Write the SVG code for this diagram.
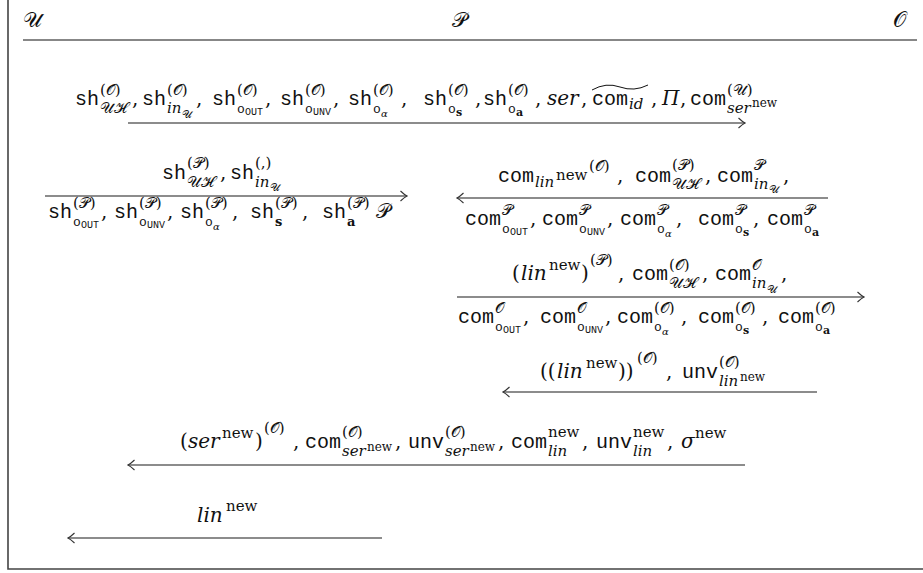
<svg xmlns="http://www.w3.org/2000/svg" width="923" height="573" viewBox="0 0 923 573">
<style>
text{fill:#111}
.t{font-family:"Liberation Mono",monospace;font-size:20px}
.m{font-family:"DejaVu Serif",serif;font-style:italic;font-size:20px}
.r{font-family:"DejaVu Serif",serif;font-size:20px}
.sm{font-family:"DejaVu Serif",serif;font-style:italic;font-size:15px}
.sr{font-family:"DejaVu Serif",serif;font-size:15px}
.st{font-family:"Liberation Mono",monospace;font-size:13px}
.tt{font-family:"Liberation Mono",monospace;font-size:10px}
.xm{font-family:"DejaVu Serif",serif;font-style:italic;font-size:10px}
.xr{font-family:"DejaVu Serif",serif;font-size:11px}
.xn{font-family:"DejaVu Serif",serif;font-size:12px}
.xb{font-family:"DejaVu Serif",serif;font-weight:bold;font-size:11px}
.sb{font-family:"DejaVu Serif",serif;font-weight:bold;font-size:13px}
.hdr{font-family:"DejaVu Serif",serif;font-size:21px}
.frame{stroke:#444;stroke-width:1.6;fill:none}
.rule{stroke:#111;stroke-width:1.1;fill:none}
.msg{stroke:#666;stroke-width:1.6;fill:none;marker-end:url(#arr)}
.tilde{stroke:#111;stroke-width:1;fill:none}
</style>
<defs>
<marker id="arr" viewBox="-8 -6 9 12" markerWidth="9" markerHeight="12" refX="0" refY="0" orient="auto" markerUnits="userSpaceOnUse">
<path d="M-6.5,-5 Q-2.5,-1.2 0,0 Q-2.5,1.2 -6.5,5" fill="none" stroke="#333" stroke-width="1.1"/>
</marker>
</defs>

<g id="frame">
<path class="frame" d="M8,0 V569 H923"/>
<path class="rule" d="M23,40 H917"/>
</g>

<g id="node-U"><text class="hdr" x="23" y="27">𝒰</text></g>
<g id="node-P"><text class="hdr" x="452" y="27">𝒫</text></g>
<g id="node-O"><text class="hdr" x="893" y="27">𝒪</text></g>

<g id="connectors">
<g id="msg1">
<line class="msg" x1="128" y1="123" x2="745" y2="123"/>
<text>
<tspan class="t" x="75" y="105">sh</tspan><tspan class="sr" x="100" y="95">(𝒪)</tspan><tspan class="sr" x="100" y="113">𝒰ℋ</tspan><tspan class="r" x="132" y="105">,</tspan>
<tspan class="t" x="142" y="105">sh</tspan><tspan class="sr" x="167" y="95">(𝒪)</tspan><tspan class="sm" x="167" y="113">in</tspan><tspan class="xr" x="182" y="118">𝒰</tspan><tspan class="r" x="196" y="105">,</tspan>
<tspan class="t" x="212" y="105">sh</tspan><tspan class="sr" x="237" y="95">(𝒪)</tspan><tspan class="st" x="237" y="113">o</tspan><tspan class="tt" x="245" y="115">OUT</tspan><tspan class="r" x="265" y="105">,</tspan>
<tspan class="t" x="280" y="105">sh</tspan><tspan class="sr" x="305" y="95">(𝒪)</tspan><tspan class="st" x="305" y="113">o</tspan><tspan class="tt" x="313" y="115">UNV</tspan><tspan class="r" x="333" y="105">,</tspan>
<tspan class="t" x="348" y="105">sh</tspan><tspan class="sr" x="373" y="95">(𝒪)</tspan><tspan class="st" x="373" y="113">o</tspan><tspan class="xm" x="381" y="117">α</tspan><tspan class="r" x="401" y="105">,</tspan>
<tspan class="t" x="423" y="105">sh</tspan><tspan class="sr" x="448" y="95">(𝒪)</tspan><tspan class="st" x="448" y="113">o</tspan><tspan class="xb" x="456" y="116">s</tspan><tspan class="r" x="475" y="105">,</tspan>
<tspan class="t" x="483" y="105">sh</tspan><tspan class="sr" x="508" y="95">(𝒪)</tspan><tspan class="st" x="508" y="113">o</tspan><tspan class="xb" x="516" y="116">a</tspan><tspan class="r" x="535" y="105">,</tspan>
<tspan class="m" x="547" y="105">ser</tspan><tspan class="r" x="581" y="105">,</tspan>
<tspan class="t" x="592" y="105">com</tspan><tspan class="sm" x="629" y="109">id</tspan><tspan class="r" x="651" y="105">,</tspan>
<tspan class="m" x="662" y="105">Π</tspan><tspan class="r" x="680" y="105">,</tspan>
<tspan class="t" x="690" y="105">com</tspan><tspan class="sr" x="727" y="95">(𝒰)</tspan><tspan class="sm" x="727" y="113">ser</tspan><tspan class="xn" x="752" y="107">new</tspan>
</text>
<path class="tilde" d="M592,90 Q606,82 620,87 Q634,92 648,85"/>
</g>

<g id="msg2">
<line class="msg" x1="45" y1="196" x2="407" y2="196"/>
<text>
<tspan class="t" x="162" y="179">sh</tspan><tspan class="sr" x="187" y="168">(𝒫)</tspan><tspan class="sr" x="187" y="187">𝒰ℋ</tspan><tspan class="r" x="220" y="179">,</tspan>
<tspan class="t" x="230" y="179">sh</tspan><tspan class="sr" x="255" y="168">(,)</tspan><tspan class="sm" x="255" y="187">in</tspan><tspan class="xr" x="270" y="191">𝒰</tspan>
</text>
<text>
<tspan class="t" x="48" y="218">sh</tspan><tspan class="sr" x="73" y="208">(𝒫)</tspan><tspan class="st" x="73" y="226">o</tspan><tspan class="tt" x="81" y="228">OUT</tspan><tspan class="r" x="101" y="218">,</tspan>
<tspan class="t" x="114" y="218">sh</tspan><tspan class="sr" x="139" y="208">(𝒫)</tspan><tspan class="st" x="139" y="226">o</tspan><tspan class="tt" x="147" y="228">UNV</tspan><tspan class="r" x="167" y="218">,</tspan>
<tspan class="t" x="180" y="218">sh</tspan><tspan class="sr" x="205" y="208">(𝒫)</tspan><tspan class="st" x="205" y="226">o</tspan><tspan class="xm" x="213" y="230">α</tspan><tspan class="r" x="232" y="218">,</tspan>
<tspan class="t" x="250" y="218">sh</tspan><tspan class="sr" x="275" y="208">(𝒫)</tspan><tspan class="sb" x="275" y="226">s</tspan><tspan class="r" x="302" y="218">,</tspan>
<tspan class="t" x="322" y="218">sh</tspan><tspan class="sr" x="347" y="208">(𝒫)</tspan><tspan class="sb" x="347" y="226">a</tspan><tspan class="r" x="376" y="218">𝒫</tspan>
</text>
</g>

<g id="msg3">
<line class="msg" x1="828" y1="198" x2="457" y2="198"/>
<text>
<tspan class="t" x="498" y="182">com</tspan><tspan class="sm" x="535" y="187">lin</tspan><tspan class="sr" x="556" y="180">new</tspan><tspan class="sr" x="589" y="171">(𝒪)</tspan><tspan class="r" x="617" y="182">,</tspan>
<tspan class="t" x="635" y="182">com</tspan><tspan class="sr" x="672" y="170">(𝒫)</tspan><tspan class="sr" x="672" y="189">𝒰ℋ</tspan><tspan class="r" x="705" y="182">,</tspan>
<tspan class="t" x="717" y="182">com</tspan><tspan class="sr" x="754" y="170">𝒫</tspan><tspan class="sm" x="754" y="189">in</tspan><tspan class="xr" x="769" y="193">𝒰</tspan><tspan class="r" x="783" y="182">,</tspan>
</text>
<text>
<tspan class="t" x="465" y="225">com</tspan><tspan class="sr" x="502" y="215">𝒫</tspan><tspan class="st" x="502" y="233">o</tspan><tspan class="tt" x="510" y="235">OUT</tspan><tspan class="r" x="530" y="225">,</tspan>
<tspan class="t" x="542" y="225">com</tspan><tspan class="sr" x="579" y="215">𝒫</tspan><tspan class="st" x="579" y="233">o</tspan><tspan class="tt" x="587" y="235">UNV</tspan><tspan class="r" x="607" y="225">,</tspan>
<tspan class="t" x="620" y="225">com</tspan><tspan class="sr" x="657" y="215">𝒫</tspan><tspan class="st" x="657" y="233">o</tspan><tspan class="xm" x="665" y="237">α</tspan><tspan class="r" x="676" y="225">,</tspan>
<tspan class="t" x="698" y="225">com</tspan><tspan class="sr" x="735" y="215">𝒫</tspan><tspan class="st" x="735" y="233">o</tspan><tspan class="xb" x="743" y="236">s</tspan><tspan class="r" x="753" y="225">,</tspan>
<tspan class="t" x="767" y="225">com</tspan><tspan class="sr" x="804" y="215">𝒫</tspan><tspan class="st" x="804" y="233">o</tspan><tspan class="xb" x="812" y="236">a</tspan>
</text>
</g>

<g id="msg4">
<line class="msg" x1="457" y1="297" x2="864" y2="297"/>
<text>
<tspan class="r" x="512" y="280">(</tspan><tspan class="m" x="521" y="280">lin</tspan><tspan class="sr" x="549" y="270">new</tspan><tspan class="r" x="581" y="280">)</tspan><tspan class="sr" x="590" y="265">(𝒫)</tspan><tspan class="r" x="618" y="280">,</tspan>
<tspan class="t" x="632" y="280">com</tspan><tspan class="sr" x="669" y="270">(𝒪)</tspan><tspan class="sr" x="669" y="288">𝒰ℋ</tspan><tspan class="r" x="702" y="280">,</tspan>
<tspan class="t" x="715" y="280">com</tspan><tspan class="sr" x="752" y="270">𝒪</tspan><tspan class="sm" x="752" y="288">in</tspan><tspan class="xr" x="767" y="293">𝒰</tspan><tspan class="r" x="781" y="280">,</tspan>
</text>
<text>
<tspan class="t" x="458" y="323">com</tspan><tspan class="sr" x="495" y="313">𝒪</tspan><tspan class="st" x="495" y="331">o</tspan><tspan class="tt" x="503" y="333">OUT</tspan><tspan class="r" x="523" y="323">,</tspan>
<tspan class="t" x="540" y="323">com</tspan><tspan class="sr" x="577" y="313">𝒪</tspan><tspan class="st" x="577" y="331">o</tspan><tspan class="tt" x="585" y="333">UNV</tspan><tspan class="r" x="605" y="323">,</tspan>
<tspan class="t" x="617" y="323">com</tspan><tspan class="sr" x="654" y="313">(𝒪)</tspan><tspan class="st" x="654" y="331">o</tspan><tspan class="xm" x="662" y="335">α</tspan><tspan class="r" x="681" y="323">,</tspan>
<tspan class="t" x="698" y="323">com</tspan><tspan class="sr" x="735" y="313">(𝒪)</tspan><tspan class="st" x="735" y="331">o</tspan><tspan class="xb" x="743" y="334">s</tspan><tspan class="r" x="762" y="323">,</tspan>
<tspan class="t" x="778" y="323">com</tspan><tspan class="sr" x="815" y="313">(𝒪)</tspan><tspan class="st" x="815" y="331">o</tspan><tspan class="xb" x="823" y="334">a</tspan>
</text>
</g>

<g id="msg5">
<line class="msg" x1="817" y1="392" x2="503" y2="392"/>
<text>
<tspan class="r" x="540" y="378">((</tspan><tspan class="m" x="557" y="378">lin</tspan><tspan class="sr" x="586" y="368">new</tspan><tspan class="r" x="618" y="378">))</tspan><tspan class="sr" x="637" y="363">(𝒪)</tspan><tspan class="r" x="666" y="378">,</tspan>
<tspan class="t" x="682" y="378">unv</tspan><tspan class="sr" x="719" y="367">(𝒪)</tspan><tspan class="sm" x="719" y="386">lin</tspan><tspan class="xn" x="740" y="381">new</tspan>
</text>
</g>

<g id="msg6">
<line class="msg" x1="745" y1="465" x2="128" y2="465"/>
<text>
<tspan class="r" x="180" y="448">(</tspan><tspan class="m" x="188" y="448">ser</tspan><tspan class="sr" x="222" y="438">new</tspan><tspan class="r" x="255" y="448">)</tspan><tspan class="sr" x="264" y="433">(𝒪)</tspan><tspan class="r" x="293" y="448">,</tspan>
<tspan class="t" x="305" y="448">com</tspan><tspan class="sr" x="342" y="437">(𝒪)</tspan><tspan class="sm" x="342" y="456">ser</tspan><tspan class="xn" x="367" y="451">new</tspan><tspan class="r" x="395" y="448">,</tspan>
<tspan class="t" x="408" y="448">unv</tspan><tspan class="sr" x="445" y="437">(𝒪)</tspan><tspan class="sm" x="445" y="456">ser</tspan><tspan class="xn" x="470" y="451">new</tspan><tspan class="r" x="498" y="448">,</tspan>
<tspan class="t" x="511" y="448">com</tspan><tspan class="sr" x="548" y="437">new</tspan><tspan class="sm" x="548" y="456">lin</tspan><tspan class="r" x="582" y="448">,</tspan>
<tspan class="t" x="596" y="448">unv</tspan><tspan class="sr" x="633" y="437">new</tspan><tspan class="sm" x="633" y="456">lin</tspan><tspan class="r" x="667" y="448">,</tspan>
<tspan class="m" x="681" y="448">σ</tspan><tspan class="sr" x="695" y="438">new</tspan>
</text>
</g>

<g id="msg7">
<line class="msg" x1="382" y1="538" x2="68" y2="538"/>
<text><tspan class="m" x="197" y="522">lin</tspan><tspan class="sr" x="226" y="511">new</tspan></text>
</g>
</g>
</svg>
